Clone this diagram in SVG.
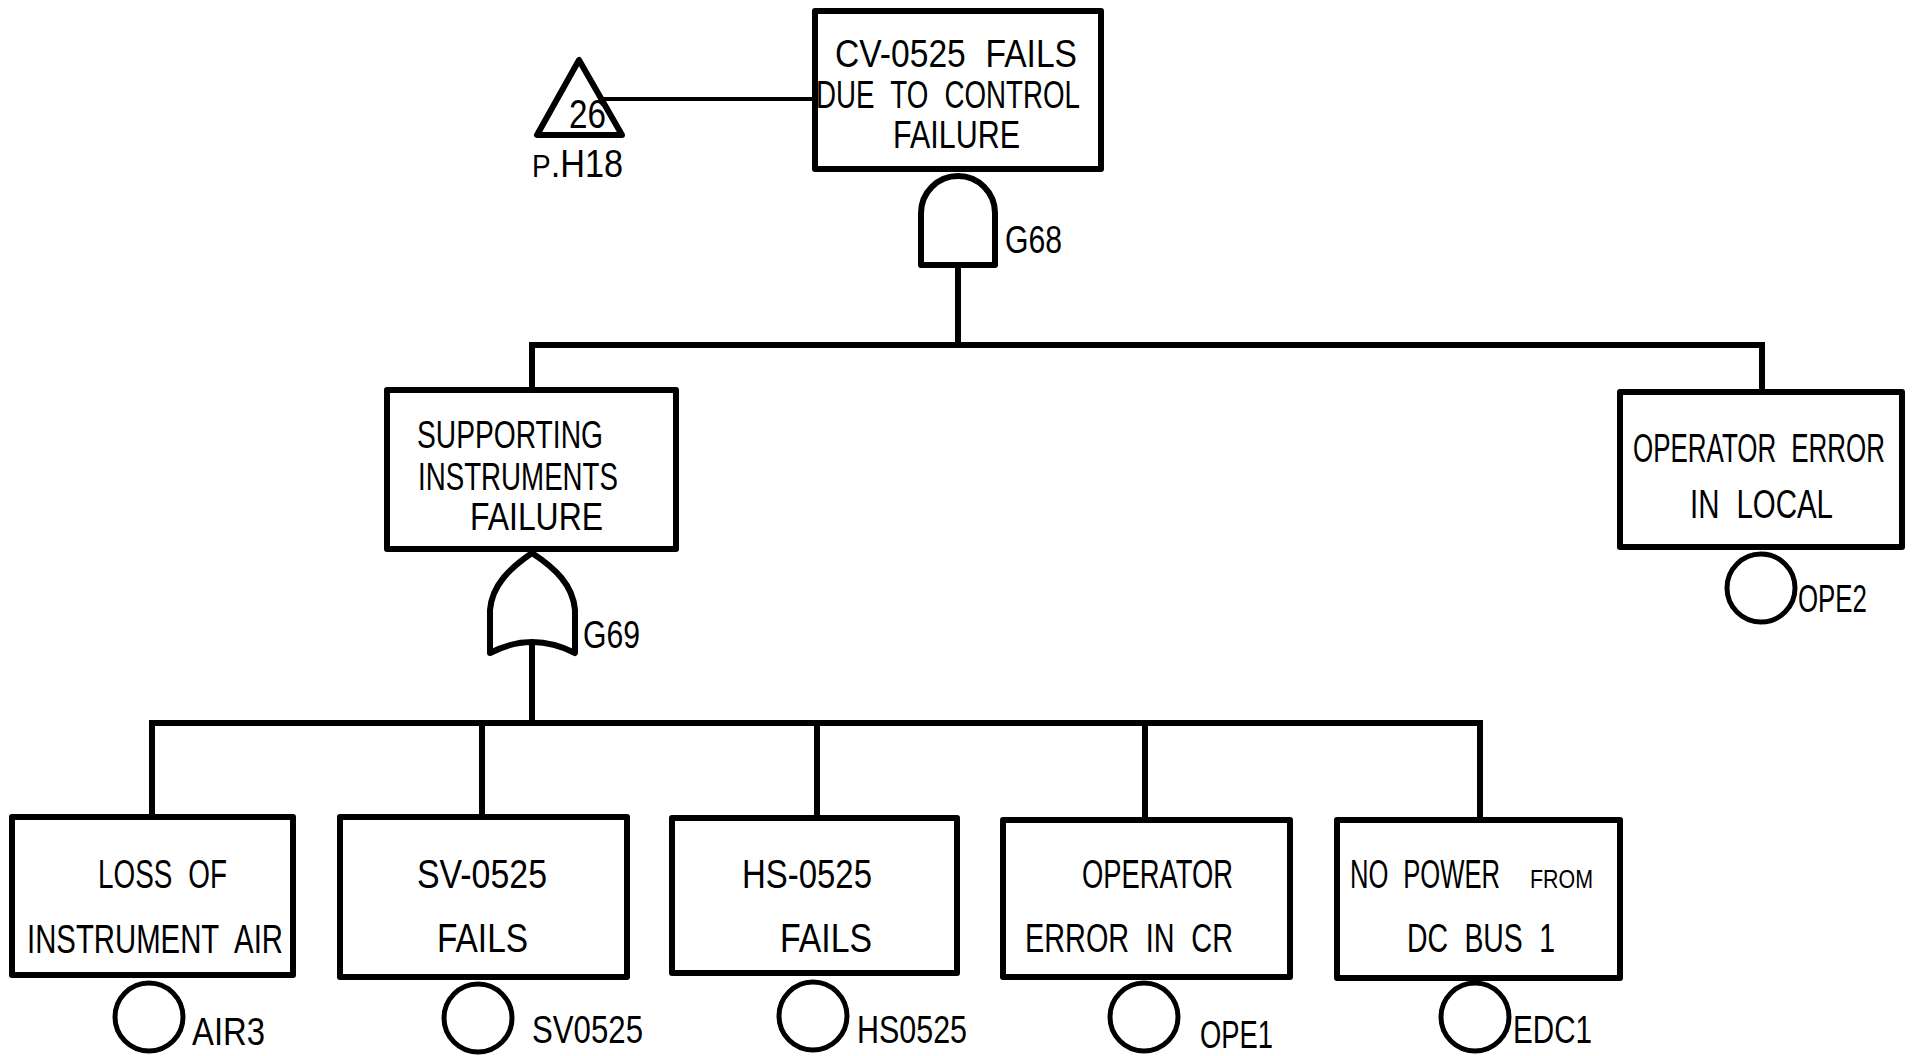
<svg xmlns="http://www.w3.org/2000/svg" width="1912" height="1056" viewBox="0 0 1912 1056">
<style>
.box{fill:#fff;stroke:#000;stroke-width:6;stroke-linejoin:round}
.gate{fill:#fff;stroke:#000;stroke-width:6;stroke-linejoin:round}
.ev{fill:none;stroke:#000;stroke-width:5}
.ln{fill:none;stroke:#000;stroke-width:6;stroke-linecap:square}
text{font-family:"Liberation Sans","DejaVu Sans",sans-serif;font-size:40px;fill:#000;word-spacing:12px}
.lb{font-size:38px}
.tt{font-size:39px}
.sm{font-size:25px}
</style>
<rect width="1912" height="1056" fill="#fff"/>
<g id="connectors">
<line class="ln" x1="605" y1="99" x2="815" y2="99" style="stroke-width:4"/>
<line class="ln" x1="958" y1="265" x2="958" y2="345"/>
<line class="ln" x1="532" y1="345" x2="1762" y2="345"/>
<line class="ln" x1="532" y1="345" x2="532" y2="390"/>
<line class="ln" x1="1762" y1="345" x2="1762" y2="392"/>
<line class="ln" x1="532" y1="645" x2="532" y2="723"/>
<line class="ln" x1="152" y1="723" x2="1480" y2="723"/>
<line class="ln" x1="152" y1="723" x2="152" y2="817"/>
<line class="ln" x1="482" y1="723" x2="482" y2="817"/>
<line class="ln" x1="817" y1="723" x2="817" y2="818"/>
<line class="ln" x1="1145" y1="723" x2="1145" y2="820"/>
<line class="ln" x1="1480" y1="723" x2="1480" y2="820"/>
</g>
<g id="transfer26">
<polygon class="gate" points="579,60 537,135 622,135"/>
<text x="569" y="128" textLength="37" lengthAdjust="spacingAndGlyphs">26</text>
<text x="532" y="177" class="lb" textLength="91" lengthAdjust="spacingAndGlyphs"><tspan style="font-size:31px">P</tspan>.H18</text>
</g>
<g id="top">
<rect class="box" x="815" y="11" width="286" height="158"/>
<text class="tt" x="835" y="67" textLength="242" lengthAdjust="spacingAndGlyphs">CV-0525 FAILS</text>
<text class="tt" x="816" y="108" textLength="264" lengthAdjust="spacingAndGlyphs">DUE TO CONTROL</text>
<text class="tt" x="893" y="148" textLength="127" lengthAdjust="spacingAndGlyphs">FAILURE</text>
</g>
<g id="G68">
<path class="gate" d="M921 265 L921 213 A37 37 0 0 1 995 213 L995 265 Z"/>
<text x="1005" y="253" class="lb" textLength="57" lengthAdjust="spacingAndGlyphs">G68</text>
</g>
<g id="supporting">
<rect class="box" x="387" y="390" width="289" height="159"/>
<text class="tt" x="417" y="448" textLength="186" lengthAdjust="spacingAndGlyphs">SUPPORTING</text>
<text class="tt" x="418" y="490" textLength="200" lengthAdjust="spacingAndGlyphs">INSTRUMENTS</text>
<text class="tt" x="470" y="530" textLength="133" lengthAdjust="spacingAndGlyphs">FAILURE</text>
</g>
<g id="G69">
<path class="gate" d="M532 553 C510 568 492 585 490 610 L490 653 Q532 631 575 653 L575 610 C573 585 555 568 532 553 Z"/>
<text x="583" y="648" class="lb" textLength="57" lengthAdjust="spacingAndGlyphs">G69</text>
</g>
<g id="OPE2">
<rect class="box" x="1620" y="392" width="282" height="155"/>
<text x="1633" y="462" textLength="252" lengthAdjust="spacingAndGlyphs">OPERATOR ERROR</text>
<text x="1690" y="518" textLength="143" lengthAdjust="spacingAndGlyphs">IN LOCAL</text>
<circle class="ev" cx="1761" cy="588" r="34"/>
<text x="1798" y="612" class="lb" textLength="69" lengthAdjust="spacingAndGlyphs">OPE2</text>
</g>
<g id="AIR3">
<rect class="box" x="12" y="817" width="281" height="158"/>
<text x="98" y="888" textLength="129" lengthAdjust="spacingAndGlyphs">LOSS OF</text>
<text x="27" y="953" textLength="256" lengthAdjust="spacingAndGlyphs">INSTRUMENT AIR</text>
<circle class="ev" cx="149" cy="1017" r="34"/>
<text x="192" y="1045" class="lb" textLength="73" lengthAdjust="spacingAndGlyphs">AIR3</text>
</g>
<g id="SV0525">
<rect class="box" x="340" y="817" width="287" height="160"/>
<text x="417" y="888" textLength="130" lengthAdjust="spacingAndGlyphs">SV-0525</text>
<text x="437" y="952" textLength="91" lengthAdjust="spacingAndGlyphs">FAILS</text>
<circle class="ev" cx="478" cy="1018" r="34"/>
<text x="532" y="1043" class="lb" textLength="111" lengthAdjust="spacingAndGlyphs">SV0525</text>
</g>
<g id="HS0525">
<rect class="box" x="672" y="818" width="285" height="155"/>
<text x="742" y="888" textLength="130" lengthAdjust="spacingAndGlyphs">HS-0525</text>
<text x="780" y="952" textLength="92" lengthAdjust="spacingAndGlyphs">FAILS</text>
<circle class="ev" cx="813" cy="1016" r="34"/>
<text x="857" y="1043" class="lb" textLength="110" lengthAdjust="spacingAndGlyphs">HS0525</text>
</g>
<g id="OPE1">
<rect class="box" x="1003" y="820" width="287" height="157"/>
<text x="1082" y="888" textLength="151" lengthAdjust="spacingAndGlyphs">OPERATOR</text>
<text x="1025" y="952" textLength="208" lengthAdjust="spacingAndGlyphs">ERROR IN CR</text>
<circle class="ev" cx="1144" cy="1017" r="34"/>
<text x="1200" y="1048" class="lb" textLength="73" lengthAdjust="spacingAndGlyphs">OPE1</text>
</g>
<g id="EDC1">
<rect class="box" x="1337" y="820" width="283" height="158"/>
<text x="1350" y="888" textLength="150" lengthAdjust="spacingAndGlyphs">NO POWER</text>
<text x="1530" y="888" class="sm" textLength="63" lengthAdjust="spacingAndGlyphs">FROM</text>
<text x="1407" y="952" textLength="148" lengthAdjust="spacingAndGlyphs">DC BUS 1</text>
<circle class="ev" cx="1475" cy="1017" r="34"/>
<text x="1513" y="1043" class="lb" textLength="79" lengthAdjust="spacingAndGlyphs">EDC1</text>
</g>
</svg>
